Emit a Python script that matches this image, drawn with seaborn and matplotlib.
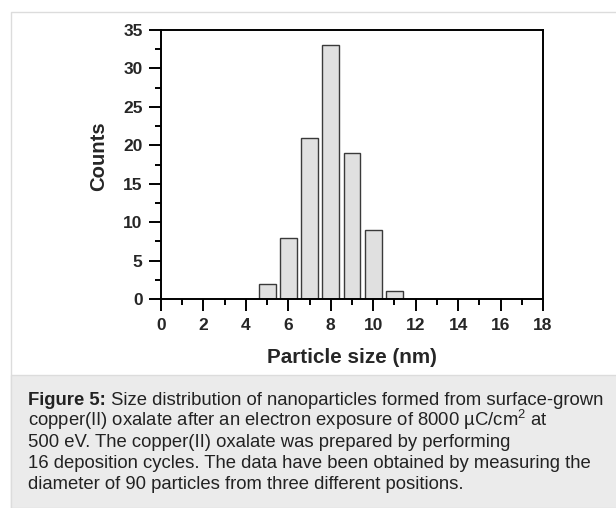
import pandas as pd
import matplotlib.pyplot as plt
import seaborn as sns
from matplotlib.patches import Rectangle
from matplotlib.ticker import MultipleLocator

# histogram values
sizes = [5, 6, 7, 8, 9, 10, 11]
counts = [2, 8, 21, 33, 19, 9, 1]

caption_bold = "Figure 5:"
caption_lines = [
    " Size distribution of nanoparticles formed from surface-grown",
    r"copper(II) oxalate after an electron exposure of 8000 µC/cm$^{2}$ at",
    "500 eV. The copper(II) oxalate was prepared by performing",
    "16 deposition cycles. The data have been obtained by measuring the",
    "diameter of 90 particles from three different positions.",
]

df = pd.DataFrame({'size': sizes, 'count': counts})

sns.set_style('ticks')
plt.rcParams['font.family'] = ['Liberation Sans', 'DejaVu Sans']
plt.rcParams['mathtext.fontset'] = 'custom'
plt.rcParams['mathtext.rm'] = 'Liberation Sans'

W, H = 616, 508
fig = plt.figure(figsize=(W / 100, H / 100), dpi=100)

# page frame + caption panel
fig.patches.append(Rectangle((11 / W, 0), 1, 1 - 12 / H, transform=fig.transFigure,
                             facecolor='white', edgecolor='#dcdcdc', lw=1, zorder=-2))
fig.patches.append(Rectangle((11 / W, 0), 1, 1 - 375 / H, transform=fig.transFigure,
                             facecolor='#ebebeb', edgecolor='#dcdcdc', lw=1, zorder=-1))

ax = fig.add_axes([161 / W, 1 - 299 / H, (543 - 161) / W, (299 - 30) / H])
ax.set_zorder(2)
sns.barplot(data=df, x='size', y='count', native_scale=True, width=0.8,
            color='#e0e0e0', edgecolor='#3a3a3a', linewidth=1.0,
            saturation=1, errorbar=None, ax=ax)

ax.set_xlim(0, 18)
ax.set_ylim(0, 35)
ax.xaxis.set_major_locator(MultipleLocator(2))
ax.xaxis.set_minor_locator(MultipleLocator(1))
ax.yaxis.set_major_locator(MultipleLocator(5))
ax.yaxis.set_minor_locator(MultipleLocator(2.5))
ax.tick_params(which='major', direction='out', length=8.3, width=1.4, color='black',
               labelsize=12.5)
ax.tick_params(which='minor', direction='out', length=4.3, width=1.4, color='black')
ax.tick_params(axis='x', which='major', pad=5.5)
ax.tick_params(axis='y', which='major', pad=5)

for s in ax.spines.values():
    s.set_visible(True)
    s.set_linewidth(1.4)
    s.set_color('black')

ax.set_xlabel('Particle size (nm)', fontsize=14.9, fontweight='bold')
ax.set_ylabel('Counts', fontsize=14.6, fontweight='bold')
ax.xaxis.label.set_va('baseline')
ax.yaxis.label.set_va('baseline')
ax.xaxis.set_label_coords((351.7 - 161) / 382, (299 - 363) / 269)
ax.yaxis.set_label_coords((104 - 161) / 382, (299 - 156) / 269)

# bold tick labels (after a draw so every tick exists)
fig.canvas.draw()
for lab in ax.get_xticklabels() + ax.get_yticklabels():
    lab.set_fontweight('bold')

# caption, bold lead-in measured so the rest follows it
cap_fs = 13.3
renderer = fig.canvas.get_renderer()
lead = fig.text(28 / W, 1 - 405 / H, caption_bold, fontsize=cap_fs, fontweight='bold',
                color='#222222', va='baseline', ha='left')
lead_end = lead.get_window_extent(renderer).x1 / W
for i, line in enumerate(caption_lines):
    x0 = lead_end if i == 0 else 28 / W
    fig.text(x0, 1 - (405 + 21 * i) / H, line, fontsize=cap_fs, color='#222222',
             va='baseline', ha='left')

fig.savefig('out.png', dpi=100)
